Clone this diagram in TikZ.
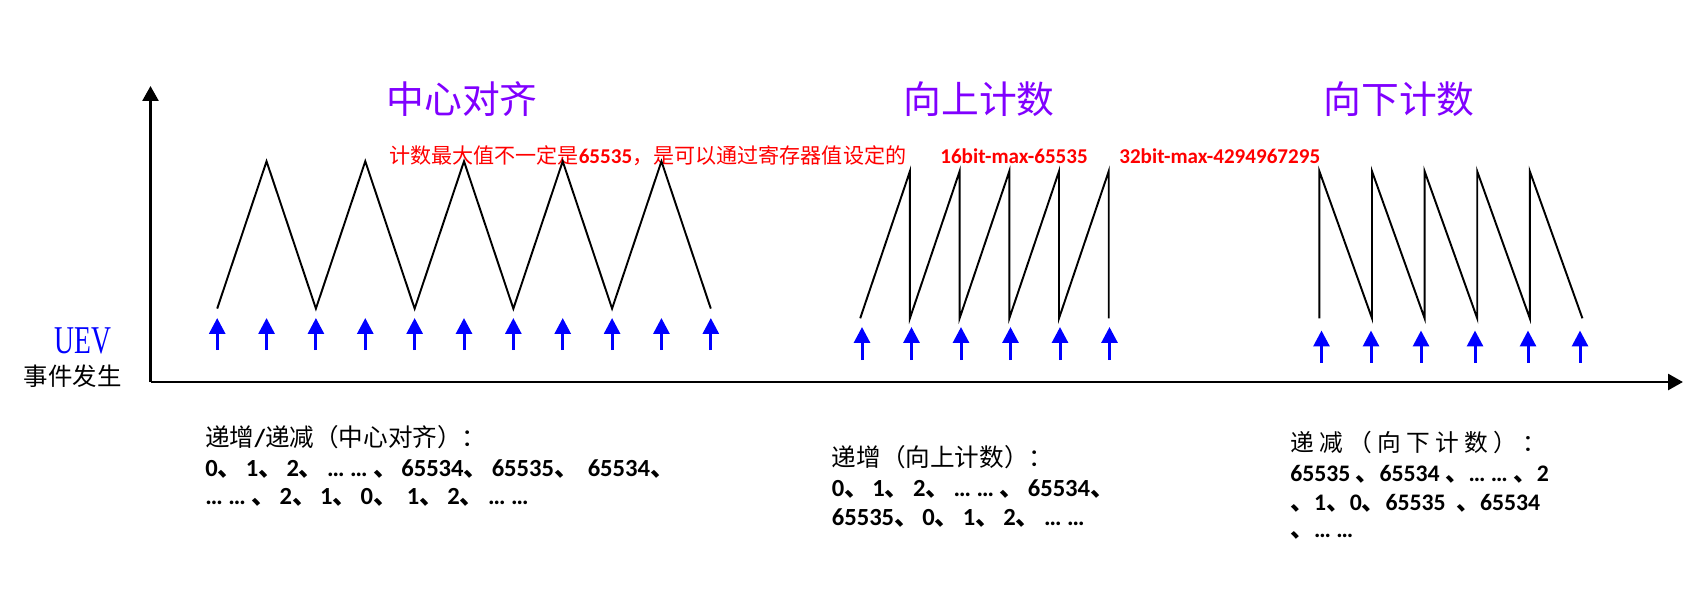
\documentclass[tikz,border=0pt]{standalone}
\usepackage{fontspec}
\usepackage{tikz}
\usetikzlibrary{arrows.meta}
\setmainfont{Carlito}
\newfontfamily\cjkfont{Noto Sans CJK SC}
\newfontfamily\uevfont{Liberation Serif}
\definecolor{uevBlue}{HTML}{0000FF}
\definecolor{modeViolet}{HTML}{8000FF}
\definecolor{noteRed}{HTML}{FF0000}
\newcommand{\dn}{{\cjkfont\bfseries 、}\kern2pt}
\newcommand{\dnplain}{{\cjkfont\bfseries 、}}
\tikzset{
  modetitle/.style={font=\cjkfont\fontsize{21.5}{26}\selectfont,text=modeViolet,inner sep=0pt},
  noteline/.style={font=\fontsize{12}{14}\selectfont\bfseries,text=noteRed,inner sep=0pt,anchor=base west},
  seqhead/.style={font=\cjkfont\fontsize{14}{17}\selectfont,inner sep=0pt,anchor=base west},
  seqnum/.style={font=\fontsize{14}{17}\selectfont\bfseries,inner sep=0pt,anchor=base west},
  seqsmall/.style={font=\fontsize{13.5}{17}\selectfont\bfseries,inner sep=0pt,anchor=base west},
  waveline/.style={line width=1.1pt,line join=miter},
  uevarrow/.style={-{Triangle[width=9pt,length=9pt]},draw=uevBlue,fill=uevBlue,line width=1.7pt},
  axisline/.style={-{Triangle[width=9pt,length=8.5pt]},line width=1.7pt}
}
\begin{document}
\begin{tikzpicture}[x=0.02cm,y=-0.02cm]
  \useasboundingbox (0,0) rectangle (1686,612);
  \coordinate (origin) at (150.5,382);
  \coordinate (yTop) at (150.5,86);
  \coordinate (xEnd) at (1683,382);
  \draw[axisline] (origin) -- (yTop);
  \draw[axisline] (origin) -- (xEnd);

  \node[modetitle] (titleCenter) at (462,99) {中心对齐};
  \node[modetitle] (titleUp) at (979,99) {向上计数};
  \node[modetitle] (titleDown) at (1399,99) {向下计数};

  \node[noteline] (noteMax) at (388.7,163.5) {{\cjkfont\mdseries 计数最大值不一定是}65535{\cjkfont\mdseries ，是可以通过寄存器值设定的}};
  \node[noteline] (note16) at (940,163.5) {16bit-max-65535};
  \node[noteline] (note32) at (1119,163.5) {32bit-max-4294967295};

  \node[text=uevBlue,inner sep=0pt,font=\uevfont\fontsize{22.4}{25}\selectfont] (uevLabel) at (83,341) {\scalebox{0.7}[1]{UEV}};
  \node[inner sep=0pt,font=\cjkfont\fontsize{13.9}{16}\selectfont] (uevEvent) at (72.6,376) {事件发生};

  \draw[waveline] (217.2,308.6) \foreach \k in {1,...,5} { -- ++(49.36,-147.3) -- ++(49.36,147.3) };
  \foreach \k in {0,...,10}
    \draw[uevarrow] ({217.2+49.36*\k},350) -- ({217.2+49.36*\k},318);

  \draw[waveline] (860.2,318.3) \foreach \k in {1,...,5} { -- ++(49.7,-147) -- ++(0,147) };
  \foreach \px in {862,911.5,961,1010.5,1060,1109.5}
    \draw[uevarrow] (\px,360) -- (\px,327);

  \draw[waveline] (1319.4,318.3) \foreach \k in {1,...,5} { -- ++(0,-147) -- ++(52.6,147) };
  \foreach \px in {1321.5,1371,1421,1475,1528,1580}
    \draw[uevarrow] (\px,362.5) -- (\px,330.5);

  \node[seqhead] (seqCenterA) at (205,446) {递增{\fontspec{Carlito}\bfseries /}递减（中心对齐）：};
  \node[seqnum] (seqCenterB) at (205,476) {0\dn 1\dn 2\dn … … \dn 65534\dn 65535\dn\ 65534\dn};
  \node[seqnum] (seqCenterC) at (205,504) {… … \dn 2\dn 1\dn 0\dn\ 1\dn 2\dn … …};

  \node[seqhead] (seqUpA) at (831.5,466) {递增（向上计数）：};
  \node[seqnum] (seqUpB) at (831.5,496) {0\dn 1\dn 2\dn … … \dn 65534\dn};
  \node[seqnum] (seqUpC) at (831.5,525) {65535\dn 0\dn 1\dn 2\dn … …};

  \node[seqhead,font=\cjkfont\fontsize{13.5}{17}\selectfont] (seqDownA) at (1290,451) {递 减 （ 向 下 计 数 ） ：};
  \node[seqsmall] (seqDownB) at (1290,481) {65535 \dnplain 65534 \dnplain … … \dnplain 2};
  \node[seqsmall] (seqDownC) at (1290,510) {\dnplain 1\dnplain 0\dnplain 65535\ \ \dnplain 65534};
  \node[seqsmall] (seqDownD) at (1290,537) {\dnplain … …};
\end{tikzpicture}
\end{document}
